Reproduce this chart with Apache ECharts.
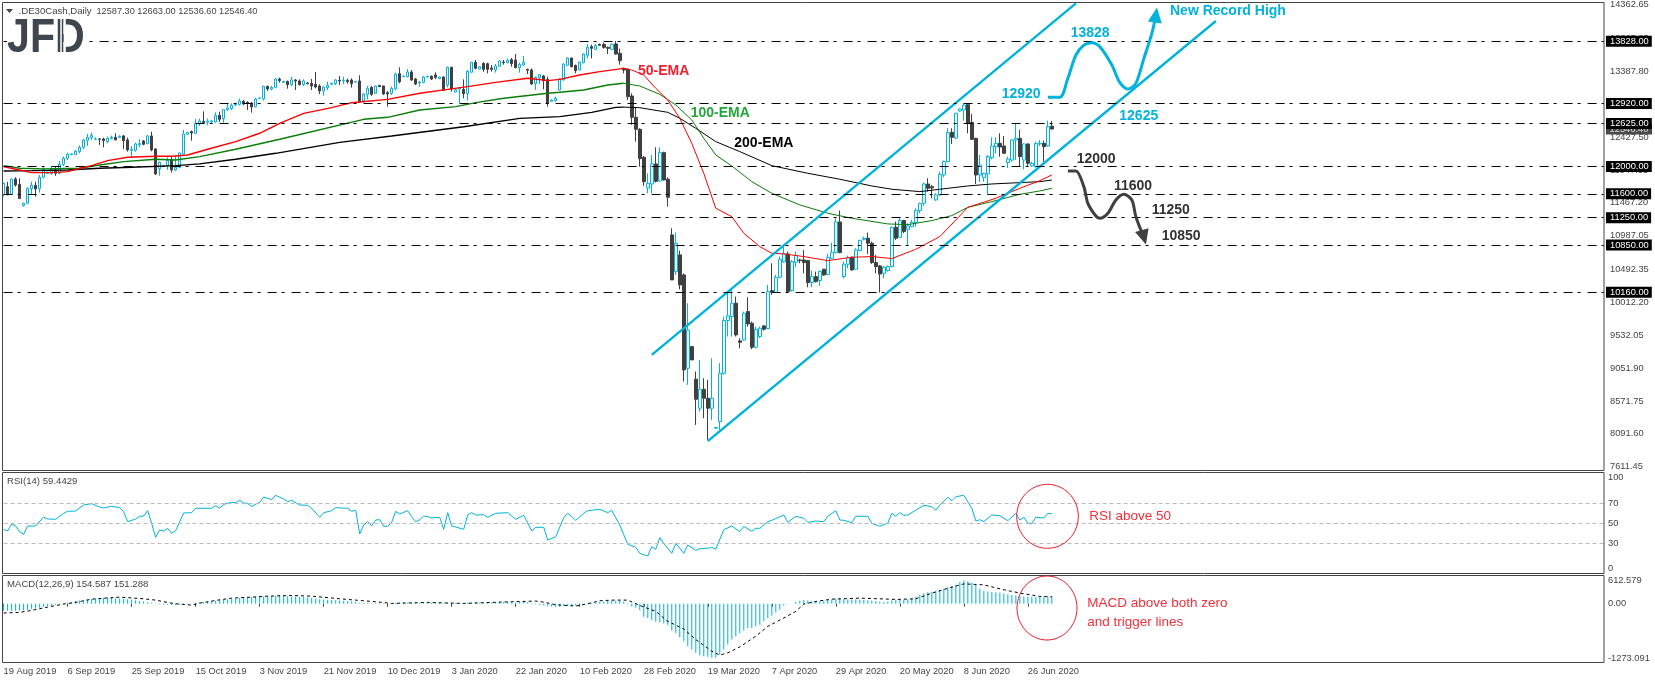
<!DOCTYPE html>
<html>
<head>
<meta charset="utf-8">
<title>.DE30Cash Daily</title>
<script src="https://cdn.jsdelivr.net/npm/echarts@6/dist/echarts.min.js"></script>
<style>
  html, body { margin: 0; padding: 0; background: #fff; }
  #chart { width: 1655px; height: 684px; }
</style>
</head>
<body>
<div id="chart"></div>
<script>
// values, one entry per daily bar
var opens = [
  11583,11704,11597,11816,11738,11427,11461,11675,11724,11675,
  11841,11899,11899,11948,11899,12031,12118,12172,12172,12216,
  12279,12381,12420,12396,12401,12401,12362,12406,12425,12425,
  12445,12386,12235,12235,12318,12372,12333,12445,12255,11963,
  12001,12011,12094,11948,11987,12182,12469,12508,12479,12620,
  12659,12644,12649,12649,12747,12698,12829,12844,12902,12907,
  12951,12936,12927,12873,12995,12985,13170,13131,13155,13277,
  13228,13243,13194,13263,13248,13194,13219,13214,13199,13175,
  13102,13151,13199,13209,13258,13248,13258,13263,13233,13248,
  12956,13053,13155,13068,13185,13175,13077,13068,13131,13355,
  13311,13311,13379,13277,13224,13228,13306,13316,13336,13282,
  13306,13189,13448,13087,13131,13126,13063,13375,13521,13423,
  13506,13501,13438,13409,13462,13525,13516,13560,13555,13443,
  13482,13418,13409,13209,13297,13321,13272,12951,12961,13116,
  13263,13477,13584,13477,13409,13516,13623,13750,13711,13784,
  13784,13740,13711,13789,13652,13433,13419,13029,12717,12542,
  12133,11685,11743,12036,11787,12201,11812,10998,10462,10706,
  10414,9050,9367,8890,8466,8743,8612,8466,8174,8271,
  8977,9747,9805,10000,9450,9464,9878,9708,9357,9513,
  9669,9630,10185,10161,10380,10604,10721,10185,10599,10633,
  10633,10623,10302,10389,10331,10497,10419,10657,10740,11188,
  10389,10570,10672,10497,10769,10935,10950,10877,10594,10545,
  10438,10477,10536,11110,10964,11208,11081,11120,11178,11354,
  11461,11743,11704,11510,11583,11875,12070,12498,12415,12809,
  12824,12902,12644,12410,11874,11840,11889,12127,12288,12337,
  12298,12054,12093,12386,12410,12093,12327,12006,11996,12327,
  12337,12298,12587.3
];
var closes = [
  11753,11583,11812,11729,11529,11461,11680,11724,11670,11841,
  11958,11914,11967,11899,12031,12118,12177,12182,12221,12279,
  12386,12425,12454,12401,12396,12376,12411,12425,12386,12440,
  12376,12240,12250,12328,12333,12323,12445,12240,11889,12060,
  12011,12084,11948,11987,12196,12474,12498,12488,12630,12664,
  12639,12664,12664,12747,12688,12829,12854,12893,12912,12956,
  12912,12927,12868,12985,13000,13170,13131,13155,13277,13253,
  13243,13194,13263,13248,13194,13248,13209,13175,13160,13102,
  13160,13185,13214,13263,13248,13258,13238,13209,13238,12946,
  13058,13141,13053,13175,13165,13058,13058,13141,13350,13238,
  13321,13379,13263,13204,13233,13306,13316,13277,13301,13306,
  13112,13448,13131,13121,13151,13063,13389,13521,13433,13457,
  13418,13418,13418,13467,13540,13516,13550,13501,13443,13491,
  13521,13404,13204,13301,13340,13253,12922,12971,12995,13277,
  13496,13584,13457,13399,13525,13642,13740,13725,13764,13769,
  13740,13725,13784,13642,13545,13409,13019,12717,12542,12113,
  11777,11753,12036,11782,12201,11802,11549,10341,10877,10268,
  9026,9610,9172,8597,8743,8612,8466,8612,8183,8977,
  9747,9815,10000,9537,9430,9854,9698,9357,9620,9635,
  9620,10170,10161,10380,10643,10721,10170,10609,10696,10623,
  10594,10302,10389,10316,10467,10414,10667,10745,11188,10740,
  10570,10667,10487,10779,10920,10950,10877,10594,10536,10428,
  10526,10536,11110,10950,11208,11047,11130,11183,11354,11456,
  11743,11680,11685,11583,11880,12070,12493,12425,12776,12839,
  12897,12629,12395,11874,12020,11899,12142,12298,12337,12283,
  12191,12108,12386,12410,12142,12327,12045,12045,12337,12337,
  12288,12580,12546.4
];
var highs = [
  11763,11773,11821,11841,11826,11471,11695,11777,11777,11875,
  11987,11923,12006,12006,12079,12143,12201,12187,12240,12308,
  12401,12474,12493,12425,12415,12420,12435,12450,12484,12454,
  12459,12420,12299,12347,12396,12386,12459,12508,12264,12070,
  12016,12133,12143,12152,12206,12532,12503,12523,12693,12698,
  12805,12698,12678,12790,12800,12834,12922,12922,12932,12990,
  12971,12951,12936,13005,13005,13180,13180,13175,13292,13297,
  13248,13253,13306,13277,13272,13272,13233,13277,13379,13199,
  13175,13238,13224,13277,13321,13311,13282,13287,13248,13331,
  13068,13175,13175,13185,13189,13180,13102,13165,13370,13448,
  13326,13423,13409,13292,13248,13321,13321,13331,13375,13311,
  13316,13457,13457,13141,13155,13272,13409,13525,13555,13462,
  13521,13516,13482,13496,13555,13555,13574,13584,13642,13516,
  13613,13428,13433,13311,13350,13336,13311,12980,13019,13292,
  13506,13594,13589,13487,13530,13652,13788,13779,13788,13793,
  13808,13750,13798,13832,13720,13443,13433,13068,12863,12557,
  12152,11899,12167,12279,12279,12216,11841,11096,11032,10769,
  10438,10000,9377,9002,9172,8904,8880,9196,8188,9123,
  9805,10170,10195,10097,9488,9878,10088,9732,9659,9659,
  9683,10268,10584,10414,10682,10828,10755,10633,10755,10648,
  10779,10633,10477,10462,10477,10502,10721,10886,11242,11354,
  10609,10696,10682,10803,10925,10974,11032,10901,10706,10560,
  10545,10550,11120,11193,11247,11217,11169,11217,11388,11471,
  11763,11826,11729,11607,11923,12084,12557,12557,12786,12848,
  12921,12912,12765,12420,12167,11908,12167,12425,12425,12483,
  12444,12142,12395,12619,12532,12337,12337,12069,12361,12386,
  12376,12668,12663
];
var lows = [
  11558,11583,11588,11704,11529,11412,11451,11592,11558,11617,
  11826,11889,11875,11860,11889,12006,12094,12167,12167,12191,
  12250,12299,12386,12386,12313,12279,12337,12396,12386,12411,
  12250,12216,12133,12216,12279,12308,12323,12221,11875,11865,
  11997,11948,11909,11933,11982,12172,12459,12376,12474,12591,
  12630,12600,12630,12639,12649,12639,12810,12825,12883,12888,
  12893,12825,12786,12863,12990,12961,13102,13112,13141,13224,
  13224,13136,13175,13116,13185,13175,13199,13116,13141,13058,
  13034,13116,13194,13189,13189,13204,13209,13151,13224,12931,
  12931,12980,13029,13058,13160,13043,12873,13043,13116,13214,
  13306,13301,13248,13189,13165,13214,13301,13263,13277,13277,
  13102,13155,13092,13077,12922,12995,12961,13370,13418,13418,
  13384,13360,13384,13370,13457,13487,13506,13457,13433,13370,
  13467,13350,13189,13116,13199,13126,12873,12941,12946,13107,
  13253,13467,13448,13360,13404,13506,13579,13579,13701,13764,
  13720,13642,13701,13633,13487,13360,12971,12605,12362,11997,
  11714,11607,11607,11763,11777,11792,11412,10341,10414,10204,
  8855,8807,9172,8222,8417,8320,8003,8295,8169,8149,
  8953,9513,9513,9513,9342,9454,9659,9328,9338,9488,
  9601,9620,10122,10156,10365,10594,10156,10170,10526,10584,
  10438,10234,10234,10302,10253,10399,10414,10643,10730,10730,
  10365,10511,10477,10487,10760,10920,10721,10575,10438,10156,
  10365,10462,10526,10925,10954,11023,10847,11110,11120,11315,
  11422,11631,11534,11495,11568,11841,12060,12328,12406,12800,
  12668,12483,12386,11743,11772,11777,11582,12103,12191,12142,
  12181,11976,12069,12093,12006,11957,12006,11996,11981,12298,
  12069,12288,12536.6
];

// moving averages, [bar, price] at the points
var ema50 = [[0,11997],[3,11958],[7,11909],[12,11909],[16,11923],[19,11972],[22,12011],[26,12084],[31,12133],[38,12148],[42,12148],[46,12167],[51,12250],[58,12362],[64,12484],[69,12630],[75,12775],[82,12858],[87,12931],[96,12980],[104,13068],[111,13126],[116,13165],[123,13228],[131,13287],[136,13253],[139,13272],[144,13336],[149,13385],[155,13433],[157,13409],[160,13336],[163,13141],[166,12971],[169,12703],[172,12337],[175,11899],[178,11388],[182,11266],[185,11023],[189,10828],[192,10730],[195,10721],[200,10682],[206,10623],[212,10672],[217,10682],[222,10653],[228,10789],[234,10974],[238,11217],[241,11402],[248,11534],[254,11680],[259,11792],[262,11874]];
var ema100 = [[0,12011],[4,11972],[10,11963],[19,11972],[24,12021],[30,12070],[38,12104],[43,12094],[49,12143],[58,12250],[69,12396],[90,12688],[96,12717],[104,12824],[113,12873],[118,12931],[125,12995],[136,13068],[139,13083],[145,13117],[151,13190],[155,13214],[159,13175],[164,13053],[168,12898],[172,12678],[175,12411],[178,12167],[182,12006],[187,11777],[192,11607],[199,11437],[206,11315],[212,11242],[221,11159],[226,11149],[232,11208],[237,11281],[241,11402],[247,11485],[254,11592],[259,11641],[262,11680]];
var ema200 = [[0,11933],[7,11938],[16,11948],[24,11972],[32,11987],[43,12011],[49,12036],[58,12104],[68,12191],[84,12351],[97,12444],[115,12580],[129,12702],[139,12727],[147,12790],[153,12863],[155,12866],[159,12858],[166,12790],[169,12703],[173,12557],[178,12362],[184,12216],[192,12011],[201,11899],[209,11812],[217,11714],[222,11666],[229,11631],[234,11666],[241,11714],[247,11743],[259,11777],[262,11801]];

var rsiValues = [[0,44],[1,42.3],[2,49],[3,47.6],[4,41.6],[5,39],[6,47.3],[8,47.3],[10,56.3],[11,54.3],[13,54],[15,60],[16,62],[18,62.3],[20,68.3],[22,69.6],[24,66.3],[25,65.3],[27,67],[29,65.6],[30,61.6],[31,51.6],[33,54.3],[34,57],[35,57.3],[36,62.6],[37,50],[38,36],[39,43.3],[40,42.3],[41,45],[42,40],[43,42.6],[45,60.3],[47,60.6],[48,65],[52,65],[53,67.6],[54,65],[55,69],[57,71],[58,70.6],[59,73],[60,70.3],[61,70],[62,67],[64,71],[65,76.3],[67,73.6],[68,78],[70,74.3],[71,71.6],[72,73],[74,68.3],[76,68],[77,65],[79,56],[80,60.6],[82,62.6],[83,65.6],[86,65],[87,62],[88,63],[89,39.3],[90,48.3],[91,51.6],[92,47.6],[93,53.3],[94,53.6],[95,47],[96,47],[97,51],[98,62],[99,59.3],[101,62.6],[102,56.6],[103,51.6],[104,53.6],[105,57.3],[106,56.6],[107,55.3],[109,56],[110,44],[111,60.6],[112,47.3],[113,46.3],[115,44],[116,58.3],[117,60.6],[118,58.3],[120,58.6],[121,56],[123,60],[126,60.6],[128,54],[130,58],[132,42.3],[133,46],[135,46],[136,33.3],[138,36.6],[140,55.6],[141,60],[142,56.6],[143,53],[145,60],[146,62.6],[149,64],[151,60.6],[152,63],[154,48.3],[156,29],[158,26],[159,20],[161,17.3],[162,26.6],[163,24],[164,35.6],[165,30],[167,20],[168,30],[170,20],[171,28.3],[173,23],[174,24.6],[176,25],[177,26],[178,24],[180,43.6],[182,47.3],[184,41.6],[185,47],[187,42],[188,45],[189,45],[191,51.6],[192,53],[195,58.3],[196,51],[198,57],[200,55],[201,51],[203,52.3],[205,51.6],[206,57],[208,62.6],[209,53.3],[210,53],[212,50.6],[213,57],[216,57],[217,50],[219,47],[221,50.3],[222,60],[223,57],[224,60.6],[225,58],[226,58.3],[230,68],[232,66.6],[233,63],[234,68.3],[236,76],[237,72.6],[238,76.6],[240,78],[242,65],[243,52.3],[244,53.6],[245,51.6],[247,58.3],[249,57.6],[251,52.6],[253,60],[254,53.3],[255,56],[256,50],[257,50],[258,56],[260,55.3],[261,60],[262,59.44]];
var rsiLevels = [70, 50, 30];
var rsiTicks = [0, 30, 50, 70, 100];

var macdHist = [
  -150,-150,-150,-150,-145,-145,-130,-115,-100,-85,
  -65,-50,-35,-20,-10,10,20,40,60,70,
  80,95,105,115,125,130,135,130,120,115,
  110,100,90,75,60,50,35,20,5,-10,
  -15,-20,-25,-25,-20,-15,-5,5,15,25,
  35,45,55,65,75,85,95,105,115,125,
  135,140,145,150,155,160,165,170,175,175,
  170,165,160,155,150,145,135,125,115,100,
  90,85,80,75,70,65,60,50,45,20,
  15,15,10,10,15,10,5,5,20,25,
  25,30,30,20,15,20,20,25,20,20,
  10,25,15,15,5,10,25,30,25,20,
  15,25,30,35,40,45,45,35,30,40,
  45,35,10,-15,-25,-35,-50,-60,-65,-65,
  -55,-50,-45,-35,-20,-5,10,20,30,40,
  50,60,70,65,60,45,10,-60,-80,-140,
  -280,-310,-350,-390,-400,-430,-460,-582,-633,-726,
  -813,-920,-992,-1064,-1114,-1136,-1150,-1172,-1172,-1100,
  -992,-884,-776,-705,-640,-582,-525,-525,-489,-453,
  -381,-309,-252,-187,-130,-36,-7,0,36,65,
  80,70,60,55,50,70,80,90,115,115,
  100,95,90,90,85,80,75,70,60,50,
  40,50,70,80,85,85,100,115,150,190,
  220,250,260,275,300,330,360,380,410,470,
  510,490,460,410,330,280,265,255,250,240,
  220,205,190,180,170,160,150,150,145,145,
  150,150,155
];
var macdSignal = [[0,-200],[4,-187],[7,-144],[11,-72],[15,-7],[18,29],[22,100],[29,144],[35,108],[38,79],[41,29],[43,0],[47,-29],[49,14],[53,72],[57,122],[62,144],[66,165],[72,180],[77,165],[84,108],[88,79],[94,36],[97,7],[106,29],[115,7],[124,36],[133,58],[135,36],[138,-22],[143,-50],[146,0],[149,65],[152,79],[156,79],[159,-36],[163,-165],[166,-380],[170,-546],[173,-776],[177,-1028],[179,-1114],[181,-1064],[184,-935],[188,-705],[191,-489],[195,-309],[198,-165],[200,-7],[203,50],[207,100],[214,122],[219,108],[223,93],[228,108],[232,230],[237,360],[240,431],[245,410],[250,302],[255,216],[259,160],[262,151.3]];
var macdTicks = [-1273.091, 0, 612.579];

var tickLabels = ['19 Aug 2019','6 Sep 2019','25 Sep 2019','15 Oct 2019','3 Nov 2019','21 Nov 2019','10 Dec 2019','3 Jan 2020','22 Jan 2020','10 Feb 2020','28 Feb 2020','19 Mar 2020','7 Apr 2020','29 Apr 2020','20 May 2020','8 Jun 2020','26 Jun 2020'];
var priceTicks = [14362.65, 13867.95, 13387.80, 12907.65, 12427.50, 11947.35, 11467.20, 10987.05, 10492.35, 10012.20, 9532.05, 9051.90, 8571.75, 8091.60, 7611.45];
var levels = [13828, 12920, 12625, 12000, 11600, 11250, 10850, 10160];
var lastPrice = 12546.40;

// drawn channel and scenario paths, [bar, price]
var channelUpper = [[162,9245],[268,14383]];
var channelLower = [[176,7984],[303,14125]];
var bullPath = [[261,13009],[264,13009],[266,13287],[268,13627],[270,13773],[272,13808],[274,13749],[277,13481],[279,13223],[281,13131],[283,13213],[285,13579],[287,13944],[288,14212]];
var bearPath = [[266,11933],[268,11933],[270,11704],[271,11460],[273,11275],[274,11241],[276,11314],[278,11509],[280,11592],[282,11509],[283,11265],[285,10964]];

var BLUE = '#00b2dc', DARK = '#404040', AXIS = '#444';
var FONT = 'Liberation Sans';
var PEN_BREAK = 155; // the averages are drawn heavier up to this bar

var barCount = 401;
var categories = [];
for (var n = 0; n < barCount; n++) categories.push(n % 16 === 0 && tickLabels[n / 16] ? tickLabels[n / 16] : '');
var candles = opens.map(function (o, i) { return [o, closes[i], lows[i], highs[i]]; });
function atTickIdx(i) { return i % 16 === 0 && i <= 256; }

function thinLine(data, color, width) {
  return { type: 'line', data: data, showSymbol: false, symbol: 'none', xAxisIndex: 0, yAxisIndex: 0,
    lineStyle: { color: color, width: width }, z: 4, silent: true };
}
function emaLines(data, color) {
  return [
    thinLine(data.filter(function (p) { return p[0] <= PEN_BREAK; }), color, 1.4),
    thinLine(data.filter(function (p) { return p[0] >= PEN_BREAK; }), color, 1)
  ];
}
function arrowPath(data, color, headSize, rotate) {
  var pts = data.map(function (p, i) {
    if (i < data.length - 1) return { value: p, symbol: 'none' };
    return { value: p, symbol: 'triangle', symbolSize: headSize, symbolRotate: rotate,
      itemStyle: { color: color } };
  });
  return { type: 'line', data: pts, smooth: 0.3, showAllSymbol: true, xAxisIndex: 0, yAxisIndex: 0,
    lineStyle: { color: color, width: 3 }, z: 6, silent: true, clip: false };
}
function note(text, x, y, color, font) {
  return { type: 'text', x: x, y: y, z: 20, silent: true,
    style: { text: text, fill: color, font: font, textVerticalAlign: 'middle' } };
}
function frame(x, y, w, h) {
  return { type: 'rect', silent: true, z: 15, shape: { x: x, y: y, width: w, height: h },
    style: { fill: 'none', stroke: AXIS, lineWidth: 1 } };
}
function patch(x, y, w, h, z) {
  return { type: 'rect', silent: true, z: z, shape: { x: x, y: y, width: w, height: h }, style: { fill: '#fff' } };
}
function ring(cx, cy, rx, ry) {
  return { type: 'ellipse', silent: true, z: 16, shape: { cx: cx, cy: cy, rx: rx, ry: ry },
    style: { fill: 'none', stroke: '#ea1c2c', lineWidth: 1 } };
}
var BOLD = 'bold 14px "Liberation Sans"', PLAIN = '13.5px "Liberation Sans"', SMALL = '9.6px "Liberation Sans"';

var logo = note('JFD', 7, 38, '#40464e', 'bold 49px "Liberation Sans"');
logo.scaleX = 0.84;
logo.z = 19;

var option = {
  animation: false,
  backgroundColor: '#fff',
  grid: [
    { left: 3.6, width: 1600.4, top: 2, height: 468.5 },
    { left: 3.6, width: 1600.4, top: 473.3, height: 100 },
    { left: 3.6, width: 1600.4, top: 575.5, height: 87 }
  ],
  xAxis: [
    { type: 'category', gridIndex: 0, data: categories, boundaryGap: false, show: false },
    { type: 'category', gridIndex: 1, data: categories, boundaryGap: false, show: false },
    { type: 'category', gridIndex: 2, data: categories, boundaryGap: false,
      axisLine: { show: false },
      axisTick: { interval: atTickIdx, length: 3, lineStyle: { color: AXIS } },
      axisLabel: { interval: atTickIdx, align: 'left', margin: 4, color: AXIS, fontFamily: FONT, fontSize: 9.3, hideOverlap: false }
    }
  ],
  yAxis: [
    { type: 'value', gridIndex: 0, position: 'right', min: 7555.7, max: 14402.3, splitLine: { show: false },
      axisLine: { show: false },
      axisTick: { customValues: priceTicks, length: 3, lineStyle: { color: AXIS } },
      axisLabel: { customValues: priceTicks, margin: 6, color: AXIS, fontFamily: FONT, fontSize: 9.3,
        formatter: function (v) { return v.toFixed(2); } }
    },
    { type: 'value', gridIndex: 1, position: 'right', min: 0, max: 100, splitLine: { show: false },
      axisLine: { show: false }, axisTick: { show: false },
      axisLabel: { customValues: rsiTicks, margin: 4, color: AXIS, fontFamily: FONT, fontSize: 9.3,
        verticalAlignMinLabel: 'bottom', verticalAlignMaxLabel: 'top' }
    },
    { type: 'value', gridIndex: 2, position: 'right', min: -1273.091, max: 612.579, splitLine: { show: false },
      axisLine: { show: false },
      axisTick: { customValues: [0], length: 3, lineStyle: { color: AXIS } },
      axisLabel: { customValues: macdTicks, margin: 4, color: AXIS, fontFamily: FONT, fontSize: 9.3,
        verticalAlignMinLabel: 'bottom', verticalAlignMaxLabel: 'top',
        formatter: function (v) { return v === 0 ? '0.00' : String(v); } }
    }
  ],
  series: [
    { type: 'candlestick', xAxisIndex: 0, yAxisIndex: 0, data: candles, barWidth: 3, clip: false, silent: true, z: 3,
      itemStyle: { color: '#fff', borderColor: BLUE, color0: DARK, borderColor0: DARK, borderWidth: 1 },
      markPoint: { silent: true, z: 4, symbol: 'rect', symbolSize: [46, 11], symbolOffset: [25, 0],
        itemStyle: { color: '#4a4a4a' },
        label: { position: 'inside', color: '#ddd', fontFamily: FONT, fontSize: 9.3,
          formatter: function (p) { return p.value.toFixed(2); } },
        data: [{ coord: [barCount - 1, lastPrice], value: lastPrice }] },
      markLine: { silent: true, symbol: 'none', animation: false, z: 6,
        lineStyle: { color: '#000', type: [9, 5, 3, 7], width: 1.2 },
        label: { position: 'end', distance: 2, color: '#fff', backgroundColor: '#000', padding: [1, 3, 1, 4],
          fontFamily: FONT, fontSize: 9.3, formatter: function (p) { return p.value.toFixed(2); } },
        data: levels.map(function (v) { return { yAxis: v }; }) } }
  ].concat(
    emaLines(ema200, '#000'),
    emaLines(ema100, '#0a7d0a'),
    emaLines(ema50, '#f00'),
    [
      thinLine(channelUpper, BLUE, 2.4),
      thinLine(channelLower, BLUE, 2.4),
      arrowPath(bullPath, BLUE, [14, 15], -8),
      arrowPath(bearPath, DARK, [14, 15], 196),
      { type: 'line', xAxisIndex: 1, yAxisIndex: 1, data: rsiValues, showSymbol: false, symbol: 'none', silent: true,
        lineStyle: { color: BLUE, width: 1 },
        markLine: { silent: true, symbol: 'none', label: { show: false },
          lineStyle: { color: '#bbb', type: [4, 3], width: 1 },
          data: rsiLevels.map(function (v) { return { yAxis: v }; }) } },
      { type: 'bar', xAxisIndex: 2, yAxisIndex: 2, data: macdHist, barWidth: 1, silent: true,
        itemStyle: { color: BLUE } },
      { type: 'line', xAxisIndex: 2, yAxisIndex: 2, data: macdSignal, showSymbol: false, symbol: 'none', silent: true, z: 4,
        lineStyle: { color: '#000', width: 1, type: [3, 3] } }
    ]
  ),
  graphic: { elements: [
    frame(2.5, 2.5, 1601.5, 468),
    frame(2.5, 472.5, 1601.5, 101),
    frame(2.5, 575.5, 1601.5, 87),
    ring(1047.5, 516.3, 30.8, 32),
    ring(1047, 608, 30, 32),
    { type: 'polygon', silent: true, z: 20, shape: { points: [[6, 9], [13, 9], [9.5, 13]] }, style: { fill: '#444' } },
    note('.DE30Cash,Daily', 18.6, 11.5, '#444', SMALL),
    note('12587.30 12663.00 12536.60 12546.40', 96.5, 11.5, '#444', '9.2px "Liberation Sans"'),
    patch(7, 18, 80, 40, 18),
    logo,
    patch(60.3, 18, 1.5, 40, 19),
    patch(63.3, 18, 2.5, 16, 19),
    patch(63.3, 42, 2.5, 16, 19),
    note('New Record High', 1170, 11, BLUE, BOLD),
    note('13828', 1070.7, 33, BLUE, BOLD),
    note('12920', 1001.7, 94, BLUE, BOLD),
    note('12625', 1119.3, 116, BLUE, BOLD),
    note('12000', 1076.7, 159, '#333', BOLD),
    note('11600', 1114, 186, '#333', BOLD),
    note('11250', 1151.7, 210, '#333', BOLD),
    note('10850', 1161.7, 236, '#333', BOLD),
    note('50-EMA', 638, 71, '#f02030', BOLD),
    note('100-EMA', 690.7, 112.7, '#22a83a', BOLD),
    note('200-EMA', 734.3, 143, '#000', BOLD),
    note('RSI above 50', 1089.3, 516, '#f0303c', PLAIN),
    note('MACD above both zero', 1087.3, 603.3, '#f0303c', PLAIN),
    note('and trigger lines', 1087.3, 622.7, '#f0303c', PLAIN),
    note('RSI(14) 59.4429', 7, 481, '#444', SMALL),
    note('MACD(12,26,9) 154.587 151.288', 7, 584, '#444', SMALL)
  ] }
};

var chart = echarts.init(document.getElementById('chart'), null, { renderer: 'canvas' });
chart.setOption(option);
</script>
</body>
</html>
